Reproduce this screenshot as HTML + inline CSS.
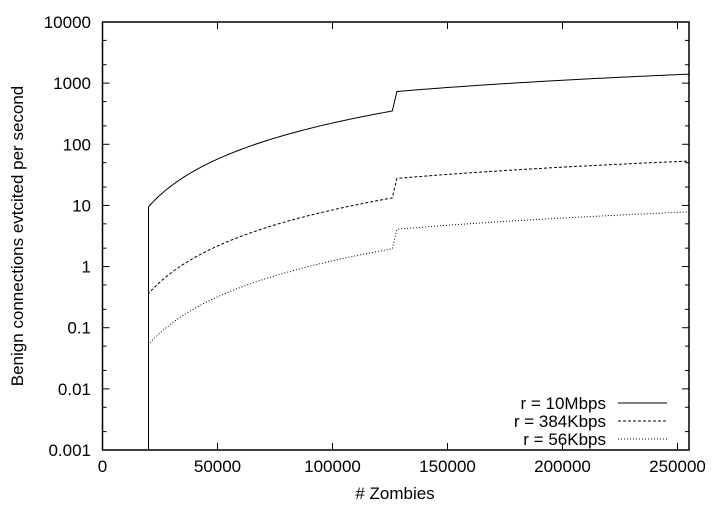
<!DOCTYPE html>
<html><head><meta charset="utf-8"><style>
html,body{margin:0;padding:0;background:#fff;}
svg text{font-family:"Liberation Sans",sans-serif;font-size:17px;fill:#000;}
</style></head><body>
<svg id="s" width="720" height="504" xmlns="http://www.w3.org/2000/svg">
<rect x="0" y="0" width="720" height="504" fill="#fff"/>
<g id="ticks" stroke="#000" stroke-width="1"></g>
<g id="labels"></g>
<g id="curves" fill="none" stroke="#000" stroke-width="1"></g>
<rect x="102.5" y="22" width="586.5" height="428" fill="none" stroke="#000" stroke-width="1.5"/>
<text x="23" y="236" text-anchor="middle" transform="rotate(-90 23 236)">Benign connections evtcited per second</text>
<text x="395" y="499" text-anchor="middle"># Zombies</text>
<text x="606" y="409" text-anchor="end">r = 10Mbps</text>
<text x="606" y="427" text-anchor="end">r = 384Kbps</text>
<text x="606" y="445" text-anchor="end">r = 56Kbps</text>
<line x1="618" y1="403" x2="667" y2="403" stroke="#000"/>
<line x1="618" y1="421" x2="667" y2="421" stroke="#000" stroke-dasharray="3,2"/>
<line x1="618" y1="439" x2="667" y2="439" stroke="#000" stroke-dasharray="1,2"/>
</svg>
<script>
var NS="http://www.w3.org/2000/svg";
var L=102.5,R=689,T=22,B=450;
function X(v){return L+v*115/50000;}
function Y(v){return B-(Math.log10(v)+3)*(B-T)/7;}
var tk=document.getElementById('ticks'),lb=document.getElementById('labels'),cv=document.getElementById('curves');
function ln(g,x1,y1,x2,y2,d){var l=document.createElementNS(NS,'line');l.setAttribute('x1',x1);l.setAttribute('y1',y1);l.setAttribute('x2',x2);l.setAttribute('y2',y2);if(d)l.setAttribute('stroke-dasharray',d);g.appendChild(l);}
function tx(x,y,s,a){var t=document.createElementNS(NS,'text');t.setAttribute('x',x);t.setAttribute('y',y);t.setAttribute('text-anchor',a);t.textContent=s;lb.appendChild(t);}
var yl=['0.001','0.01','0.1','1','10','100','1000','10000'];
for(var e=-3;e<=4;e++){var y=Y(Math.pow(10,e));ln(tk,L,y,L+7,y);ln(tk,R,y,R-7,y);tx(91,y+6,yl[e+3],'end');
 if(e<4){[2,5].forEach(function(m){var yy=Y(m*Math.pow(10,e));ln(tk,L,yy,L+4,yy);ln(tk,R,yy,R-4,yy);});}}
for(var v=0;v<=250000;v+=50000){var x=X(v);ln(tk,x,B,x,B-7);ln(tk,x,T,x,T+7);tx(x,472,String(v),'middle');}
function curve(a,dash){var d='M'+X(20000)+','+B;
 for(var v=20000;v<=126000;v+=1000){d+=' L'+X(v).toFixed(2)+','+Y(a*Math.pow(v/20000,1.96)).toFixed(2);}
 var b=a*76.8;
 for(var v=128000;v<=255000;v+=1000){d+=' L'+X(v).toFixed(2)+','+Y(b*Math.pow(v/128000,0.95)).toFixed(2);}
 var p=document.createElementNS(NS,'path');p.setAttribute('d',d);if(dash)p.setAttribute('stroke-dasharray',dash);cv.appendChild(p);}
curve(9.5,null);curve(0.36,'3,2');curve(0.053,'1,2');
</script>
</body></html>
